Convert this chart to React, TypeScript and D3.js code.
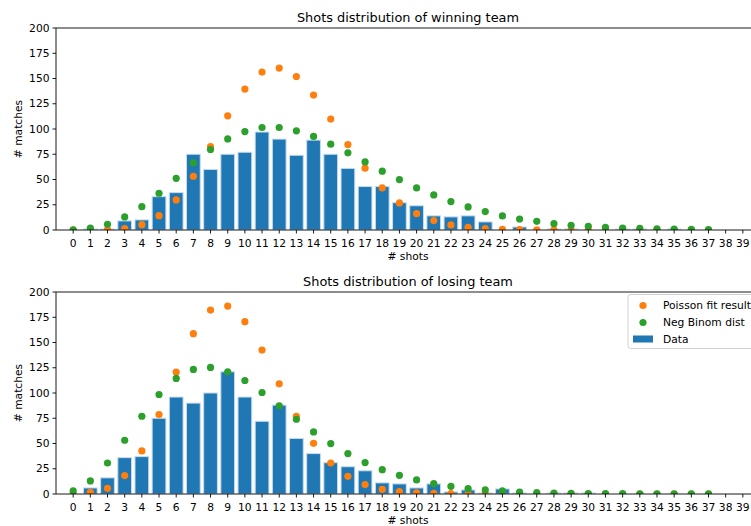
import React from "react";
import * as d3 from "d3";

// Number of shots per match (x categories / tick labels)
const shots: number[] = d3.range(0, 40);

// Winning team: observed counts per shot number
const winData: number[] = [
  0, 1, 1, 9, 10, 33, 37, 75, 60, 75, 77, 97, 90, 74, 89, 75, 61, 43, 43, 27,
  24, 14, 13, 14, 8, 0, 3, 0, 1, 1, 0, 0, 1, 1, 0, 1, 0, 0, 0, 0,
];
// Winning team: Poisson fit (shots 0..37)
const winPoisson: number[] = [
  0, 0.05, 0.3, 1.3, 5.3, 14.2, 29.8, 53.2, 82.6, 113, 139.5, 156.4, 160.3,
  152, 133.6, 109.8, 84.6, 61.2, 41.7, 26.8, 16.2, 9.3, 5, 2.6, 1.3, 0.6, 0.3,
  0.1, 0.05, 0, 0, 0, 0, 0, 0, 0, 0, 0,
];
// Winning team: negative binomial fit (shots 0..37)
const winNegBinom: number[] = [
  0.2, 2, 5.6, 12.9, 23.1, 36.4, 51.2, 66.4, 79.7, 90.2, 97.5, 101.5, 101.5,
  98.2, 92.6, 85, 76.4, 67.4, 58.2, 49.9, 41.7, 34.7, 28.1, 22.8, 18.2, 13.9,
  10.9, 8.6, 6.3, 4.6, 3.6, 2.6, 2, 1.6, 1.1, 0.9, 0.6, 0.3,
];

// Losing team: observed counts per shot number
const loseData: number[] = [
  0, 6, 16, 36, 37, 75, 96, 90, 100, 121, 96, 72, 88, 55, 40, 31, 27, 23, 11,
  10, 6, 10, 2, 4, 1, 5, 1, 0, 1, 1, 1, 0, 0, 0, 0, 0, 0, 0, 0, 0,
];
// Losing team: Poisson fit (shots 0..37)
const losePoisson: number[] = [
  0.2, 1.7, 5.6, 18.2, 42.6, 78.7, 120.7, 158.7, 182.1, 186.1, 170.6, 142.5,
  109.1, 77, 50.2, 30.7, 17.5, 9.3, 4.6, 2.3, 1.1, 0.6, 0.3, 0.1, 0, 0, 0, 0,
  0, 0, 0, 0, 0, 0, 0, 0, 0, 0,
];
// Losing team: negative binomial fit (shots 0..37)
const loseNegBinom: number[] = [
  3, 12.9, 30.7, 53.2, 77, 98.5, 114.4, 123.3, 125.3, 121, 112.4, 100.5, 87.3,
  74, 61.5, 49.9, 40, 31.1, 24.1, 18.5, 13.9, 10.2, 7.6, 5.3, 4, 3, 2, 1.5, 1,
  0.7, 0.5, 0.4, 0.3, 0.2, 0.2, 0.1, 0.1, 0.1,
];

const yTicks: number[] = [0, 25, 50, 75, 100, 125, 150, 175, 200];

const titles: string[] = [
  "Shots distribution of winning team",
  "Shots distribution of losing team",
];
const legendLabels: string[] = ["Poisson fit result", "Neg Binom dist", "Data"];

const BLUE = "#1f77b4";
const ORANGE = "#ff7f0e";
const GREEN = "#2ca02c";
const FONT = "DejaVu Sans, sans-serif";
const TICK_FS = 10.7;
const TITLE_FS = 12.9;

const W = 751;
const H = 526;
const LEFT = 56;
const RIGHT = 760;
const PANEL_H = 202;

type PanelProps = {
  id: string;
  top: number;
  title: string;
  data: number[];
  poisson: number[];
  negBinom: number[];
  legend: boolean;
};

function Panel({ id, top, title, data, poisson, negBinom, legend }: PanelProps) {
  const x = d3.scaleLinear().domain([-1, 40]).range([LEFT, RIGHT]);
  const y = d3.scaleLinear().domain([0, 200]).range([top + PANEL_H, top]);
  const barW = x(0.8) - x(0);
  const bottom = y(0);
  const cx = (LEFT + RIGHT) / 2;
  const r = 3.6;

  return (
    <g>
      <defs>
        <clipPath id={id}>
          <rect x={LEFT} y={top} width={RIGHT - LEFT} height={PANEL_H} />
        </clipPath>
      </defs>
      <text x={cx} y={top - 6.5} textAnchor="middle" fontSize={TITLE_FS} fill="#000">
        {title}
      </text>

      {/* bars and fitted points */}
      <g clipPath={`url(#${id})`}>
        {data.map((v, i) =>
          v > 0 ? (
            <rect
              key={i}
              x={x(shots[i]) - barW / 2}
              y={y(v)}
              width={barW}
              height={bottom - y(v)}
              fill={BLUE}
              stroke="#c8dcec"
              strokeWidth={1}
            />
          ) : null
        )}
        {poisson.map((v, i) => (
          <circle key={"p" + i} cx={x(shots[i])} cy={y(v)} r={r} fill={ORANGE} />
        ))}
        {negBinom.map((v, i) => (
          <circle key={"n" + i} cx={x(shots[i])} cy={y(v)} r={r} fill={GREEN} />
        ))}
      </g>

      {/* spines */}
      <line x1={LEFT} x2={LEFT} y1={top} y2={bottom} stroke="#000" strokeWidth={0.9} />
      <line x1={LEFT} x2={RIGHT} y1={top} y2={top} stroke="#000" strokeWidth={0.9} />
      <line x1={LEFT} x2={RIGHT} y1={bottom} y2={bottom} stroke="#000" strokeWidth={0.9} />

      {/* y axis */}
      {yTicks.map((t) => (
        <g key={t}>
          <line x1={LEFT - 3.5} x2={LEFT} y1={y(t)} y2={y(t)} stroke="#000" strokeWidth={0.9} />
          <text x={LEFT - 6.5} y={y(t)} dy="0.35em" textAnchor="end" fontSize={TICK_FS} fill="#000">
            {t}
          </text>
        </g>
      ))}
      <text
        transform={`translate(${18},${(top + bottom) / 2}) rotate(-90)`}
        textAnchor="middle"
        dy="0.35em"
        fontSize={TICK_FS}
        fill="#000"
      >
        # matches
      </text>

      {/* x axis */}
      {shots.map((s) => (
        <g key={s}>
          <line x1={x(s)} x2={x(s)} y1={bottom} y2={bottom + 3.5} stroke="#000" strokeWidth={0.9} />
          <text x={x(s)} y={bottom + 16.5} textAnchor="middle" fontSize={TICK_FS} fill="#000">
            {s}
          </text>
        </g>
      ))}
      <text x={cx} y={bottom + 30} textAnchor="middle" fontSize={TICK_FS} fill="#000">
        # shots
      </text>

      {legend && (
        <g>
          <rect
            x={628}
            y={top + 2.5}
            width={127}
            height={54}
            rx={2.5}
            fill="#fff"
            fillOpacity={0.8}
            stroke="#cccccc"
            strokeWidth={0.9}
          />
          <circle cx={643} cy={top + 13.5} r={r} fill={ORANGE} />
          <circle cx={643} cy={top + 30.5} r={r} fill={GREEN} />
          <rect x={633} y={top + 43.5} width={20} height={7} fill={BLUE} />
          {legendLabels.map((l, i) => (
            <text key={l} x={663} y={top + 13.5 + i * 16.7} dy="0.35em" fontSize={TICK_FS} fill="#000">
              {l}
            </text>
          ))}
        </g>
      )}
    </g>
  );
}

export default function App() {
  return (
    <div style={{ position: "absolute", left: 0, top: 0 }}>
      <svg width={W} height={H} style={{ display: "block", fontFamily: FONT }}>
        <rect width={W} height={H} fill="#fff" />
        <Panel
          id="clip-win"
          top={28}
          title={titles[0]}
          data={winData}
          poisson={winPoisson}
          negBinom={winNegBinom}
          legend={false}
        />
        <Panel
          id="clip-lose"
          top={292}
          title={titles[1]}
          data={loseData}
          poisson={losePoisson}
          negBinom={loseNegBinom}
          legend={true}
        />
      </svg>
    </div>
  );
}
